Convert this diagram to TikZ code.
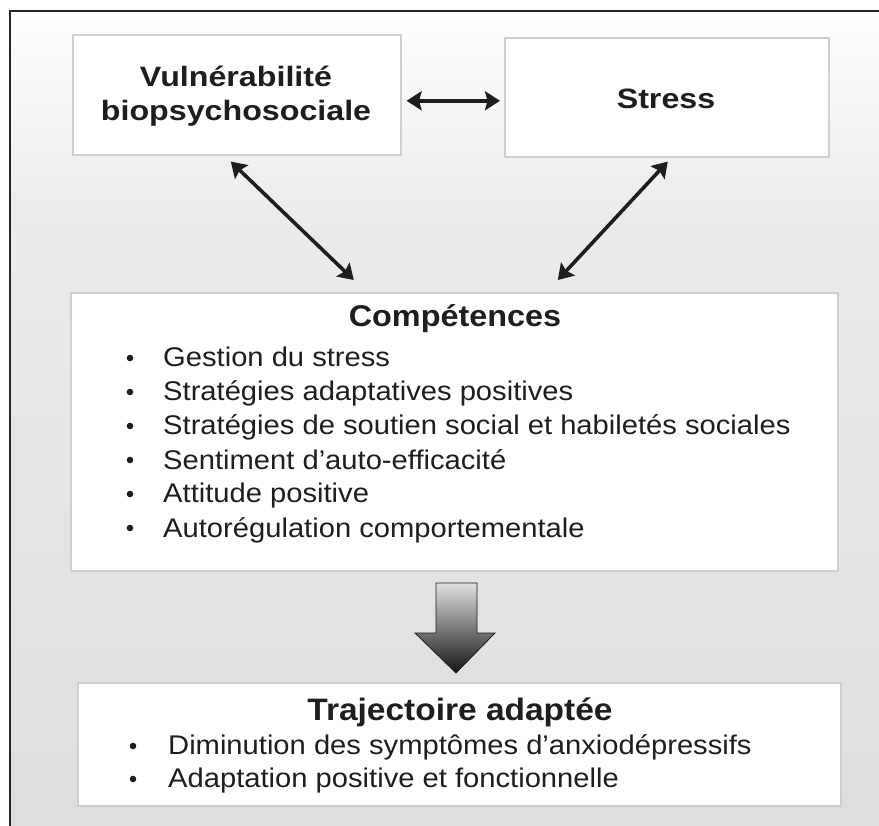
\documentclass[tikz,border=0pt]{standalone}
\usepackage{fontspec}
\setmainfont[FakeStretch=1.08]{Liberation Sans}
\newfontfamily\widefont[FakeStretch=1.15]{Liberation Sans}
\usetikzlibrary{arrows.meta}
\definecolor{boxline}{HTML}{CFCFCF}
\definecolor{ink}{HTML}{1E1E1E}
\tikzset{
  panel/.style={draw=boxline, line width=1.6pt, fill=white, inner sep=0pt, anchor=north west},
  dbl/.style={ink, line width=3.6pt, {Stealth[length=15pt,width=19pt,inset=2.5pt]}-{Stealth[length=15pt,width=19pt,inset=2.5pt]}},
  txt/.style={inner sep=0pt, anchor=base west, text=ink},
  ctxt/.style={inner sep=0pt, anchor=base, text=ink},
}
\begin{document}
\begin{tikzpicture}[x=1pt,y=-1pt]
\useasboundingbox (0,0) rectangle (879,826);
% page and backdrop
\fill[white] (0,0) rectangle (879,826);
\shade[top color=white, bottom color=black!8] (10,11) rectangle (879,220);
\shade[top color=black!8, bottom color=black!13] (10,220) rectangle (879,826);
\draw[black!85, line width=1.8pt] (10,826) -- (10,11) -- (879,11);

% boxes
\node[panel, minimum width=328pt, minimum height=120pt] (vul) at (72,34) {};
\node[panel, minimum width=324pt, minimum height=119pt] (stress) at (504,37) {};
\node[panel, minimum width=767pt, minimum height=278pt] (comp) at (70,292) {};
\node[panel, minimum width=763pt, minimum height=123pt] (traj) at (77,682) {};

% box titles
\node[ctxt, font=\widefont\bfseries\fontsize{28}{34}\selectfont] (vul1) at (236,87) {Vulnérabilité};
\node[ctxt, font=\widefont\bfseries\fontsize{28}{34}\selectfont] (vul2) at (236,121) {biopsychosociale};
\node[ctxt, font=\widefont\bfseries\fontsize{28}{34}\selectfont] (stresst) at (666,109) {Stress};
\node[ctxt, font=\bfseries\fontsize{30}{36}\selectfont] (compt) at (455,327) {Compétences};
\node[ctxt, font=\bfseries\fontsize{31}{36}\selectfont] (trajt) at (460,720) {Trajectoire adaptée};

% competences list
\foreach \y/\t [count=\i] in {367/{Gestion du stress},
  401/{Stratégies adaptatives positives},
  435/{Stratégies de soutien social et habiletés sociales},
  469/{Sentiment d’auto-efficacité},
  503/{Attitude positive},
  537/{Autorégulation comportementale}}{
  \fill[ink] (130,\y-9) circle (3.3pt);
  \node[txt, font=\fontsize{27}{33}\selectfont] (c\i) at (163,\y) {\t};
}

% outcome list
\foreach \y/\t [count=\i] in {754/{Diminution des symptômes d’anxiodépressifs},
  787/{Adaptation positive et fonctionnelle}}{
  \fill[ink] (133,\y-8) circle (3.3pt);
  \node[txt, font=\fontsize{27}{33}\selectfont] (t\i) at (168,\y) {\t};
}

% reciprocal links
\draw[dbl] ([xshift=5pt,yshift=-6pt]vul.east) -- ([xshift=-4pt,yshift=-3.5pt]stress.west);
\draw[dbl] ([xshift=-6pt,yshift=-6pt]vul.south) -- ([xshift=-100.5pt,yshift=12pt]comp.north);
\draw[dbl] ([xshift=1pt,yshift=-4pt]stress.south) -- ([xshift=103.5pt,yshift=12pt]comp.north);

% block arrow leading to the outcome
\shade[top color=black!12, middle color=black!60, bottom color=black!92, draw=ink, line width=0.8pt]
  (436,583) -- (477,583) -- (477,633) -- (495,633) -- (456,673) -- (415,633) -- (436,633) -- cycle;
\end{tikzpicture}
\end{document}
